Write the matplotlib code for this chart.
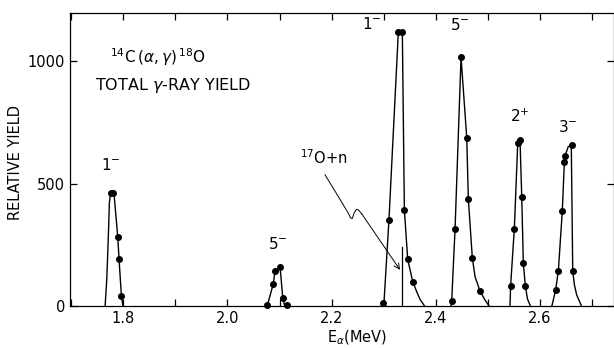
import matplotlib
matplotlib.use("Agg")
import matplotlib.pyplot as plt
from matplotlib.ticker import MultipleLocator

# measured points (E_alpha in MeV, relative yield)
dots_e = [
    [1.777, 1.780, 1.7894, 1.7919, 1.7964],
    [2.0766, 2.088, 2.0914, 2.101, 2.1073, 2.115],
    [2.2993, 2.310, 2.328, 2.3357, 2.3396, 2.346, 2.3557],
    [2.4305, 2.4369, 2.4484, 2.4593, 2.4624, 2.470, 2.4848],
    [2.5435, 2.5507, 2.5572, 2.5616, 2.5649, 2.568, 2.5718],
    [2.630, 2.6352, 2.6428, 2.6467, 2.648, 2.662, 2.6628],
]
dots_y = [
    [464, 462, 284, 193, 44],
    [5, 92, 146, 162, 36, 5],
    [13, 352, 1117, 1117, 393, 192, 101],
    [24, 316, 1015, 688, 438, 199, 63],
    [83, 317, 665, 678, 447, 176, 83],
    [67, 146, 390, 587, 613, 658, 145],
]

# hand-drawn curves through the points
curve_e = [
    [1.7651, 1.7683, 1.7702, 1.7722, 1.7733, 1.7753, 1.777, 1.7823, 1.7894, 1.7919, 1.7964, 1.7995],
    [2.0766, 2.088, 2.0914, 2.101, 2.106, 2.110],
    [2.300, 2.310, 2.328, 2.3357, 2.3396, 2.346, 2.3557, 2.3633, 2.3697, 2.379],
    [2.429, 2.4305, 2.4369, 2.4484, 2.4593, 2.4624, 2.470, 2.4753, 2.4848, 2.4944, 2.5017],
    [2.5424, 2.5435, 2.5507, 2.5572, 2.5616, 2.5649, 2.568, 2.5718, 2.576, 2.582],
    [2.6225, 2.630, 2.6352, 2.6428, 2.6467, 2.648, 2.654, 2.660, 2.6628, 2.666, 2.6704, 2.680],
]
curve_y = [
    [0, 108, 217, 339, 420, 458, 464, 458, 284, 193, 44, 0],
    [5, 92, 146, 162, 40, 0],
    [0, 352, 1117, 1117, 393, 192, 101, 60, 29, 0],
    [0, 24, 316, 1015, 688, 438, 199, 121, 63, 26, 4],
    [0, 83, 317, 665, 678, 447, 176, 83, 30, 0],
    [0, 67, 146, 390, 587, 613, 650, 658, 145, 88, 47, 0],
]

spins = ["1$^{-}$", "5$^{-}$", "1$^{-}$", "5$^{-}$", "2$^{+}$", "3$^{-}$"]
spin_e = [1.776, 2.097, 2.277, 2.4465, 2.5616, 2.654]
spin_y = [543, 222, 1119, 1114, 739, 699]

# 17O+n threshold marker and wavy pointer
thr_e = 2.3345
thr_top = 241
wave_e = [2.1873, 2.205, 2.222, 2.232, 2.2365, 2.2395, 2.243, 2.2475, 2.252, 2.2578]
wave_y = [536, 475, 415, 380, 360, 358, 380, 396, 392, 377]
arrow_tip = (2.3313, 149)

fig = plt.figure(figsize=(6.14, 3.48), dpi=100)
ax = fig.add_axes([0.1148, 0.1193, 0.8852, 0.8433])

for ce, cy in zip(curve_e, curve_y):
    ax.plot(ce, cy, color="black", lw=1.0)
for de, dy in zip(dots_e, dots_y):
    ax.plot(de, dy, "o", color="black", ms=4.0, clip_on=False)

for s, e, y in zip(spins, spin_e, spin_y):
    ax.text(e, y, s, ha="center", va="bottom", fontsize=11)

ax.plot([thr_e, thr_e], [0, thr_top], color="black", lw=0.9)
ax.plot(wave_e, wave_y, color="black", lw=0.7)
ax.annotate("", xy=arrow_tip, xytext=(wave_e[-1], wave_y[-1]),
            arrowprops=dict(arrowstyle="->", lw=0.7, color="black",
                            shrinkA=0, shrinkB=0))
ax.text(2.184, 605, "$^{17}$O+n", ha="center", va="center", fontsize=10.5)

ax.text(1.775, 1016, r"$^{14}$C$\,(\alpha,\gamma)\,^{18}$O", ha="left",
        va="center", fontsize=11)
ax.text(1.746, 898, r"TOTAL $\gamma$-RAY YIELD", ha="left", va="center",
        fontsize=11.5)

ax.set_xlim(1.6987, 2.742)
ax.set_ylim(0, 1195)
ax.xaxis.set_minor_locator(MultipleLocator(0.1))
ax.set_xticks([1.8, 2.0, 2.2, 2.4, 2.6])
ax.set_xticklabels(["1.8", "2.0", "2.2", "2.4", "2.6"])
ax.set_yticks([0, 500, 1000])
ax.set_yticklabels(["0", "500", "1000"])
ax.tick_params(which="both", direction="in", length=5, width=0.9,
               top=True, right=True, labelsize=10.5)
ax.tick_params(axis="y", pad=4)
for sp in ax.spines.values():
    sp.set_linewidth(0.9)

ax.set_ylabel("RELATIVE YIELD", fontsize=10.5)
ax.yaxis.set_label_coords(-0.088, 0.49)
ax.set_xlabel(r"E$_{\alpha}$(MeV)", fontsize=10.5)
ax.xaxis.set_label_coords(0.527, -0.075)

fig.savefig("out.png", dpi=100)
